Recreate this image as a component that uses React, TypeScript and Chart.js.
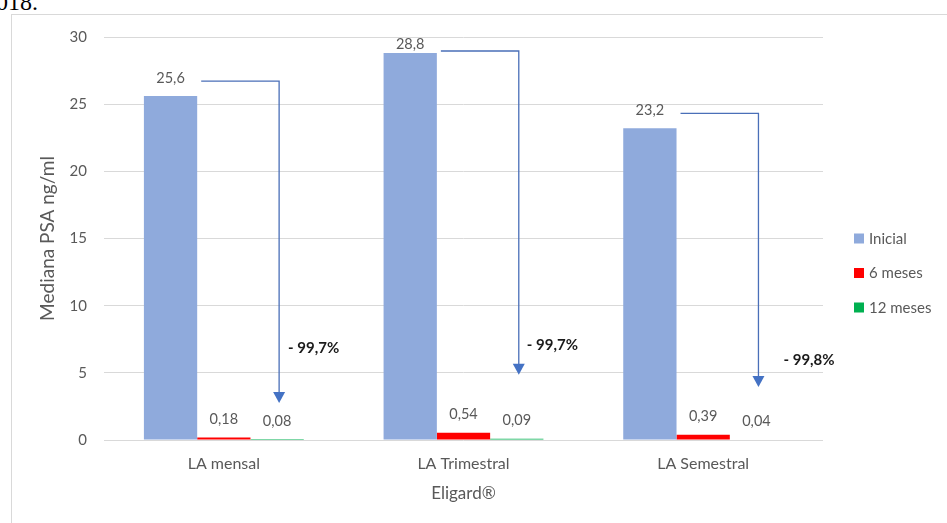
import { useEffect, useRef } from "react";
import { Chart, registerables } from "chart.js";

Chart.register(...registerables);

const categories = ["LA mensal", "LA Trimestral", "LA Semestral"];
const seriesNames = ["Inicial", "6 meses", "12 meses"];
const inicialValues = [25.6, 28.8, 23.2];
const meses6Values = [0.18, 0.54, 0.39];
const meses12Values = [0.08, 0.09, 0.04];
const reductionLabels = ["- 99,7%", "- 99,7%", "- 99,8%"];
const arrowEndValues = [2.75, 4.85, 3.95];
const reductionLabelValues = [6.85, 7.05, 5.95];
const yTickMax = 30;
const yTickStep = 5;

const seriesColors = ["#8FAADC", "#FF0000", "#00B050"];
const reductionLabelOffsets = [9, 8, 25];
const FONT = "Lato";

const fmt = (v: number) => String(v).replace(".", ",");

const valueLabelPlugin = {
  id: "valueLabels",
  afterDatasetsDraw(chart: any) {
    const { ctx, chartArea } = chart;
    ctx.save();
    ctx.font = `14.5px ${FONT}`;
    ctx.fillStyle = "#595959";
    ctx.textAlign = "center";
    ctx.textBaseline = "middle";
    chart.data.datasets.forEach((ds: any, di: number) => {
      const meta = chart.getDatasetMeta(di);
      meta.data.forEach((bar: any, i: number) => {
        const y = Math.max(bar.y - 18, chartArea.top + 7);
        ctx.fillText(fmt(ds.data[i]), bar.x, y);
      });
    });
    ctx.restore();
  },
};

const arrowPlugin = {
  id: "arrows",
  afterDatasetsDraw(chart: any) {
    const { ctx, chartArea } = chart;
    const yScale = chart.scales.y;
    const m0 = chart.getDatasetMeta(0);
    const m2 = chart.getDatasetMeta(2);
    ctx.save();
    categories.forEach((_, i) => {
      const b0 = m0.data[i];
      const b2 = m2.data[i];
      const hy = Math.max(b0.y - 15, chartArea.top + 14);
      const x0 = b0.x + b0.width / 2 + 4;
      const x1 = b2.x + 2;
      const yEnd = yScale.getPixelForValue(arrowEndValues[i]);
      ctx.strokeStyle = "#4A6FB8";
      ctx.lineWidth = 1.3;
      ctx.beginPath();
      ctx.moveTo(x0, hy);
      ctx.lineTo(x1, hy);
      ctx.lineTo(x1, yEnd - 9);
      ctx.stroke();
      ctx.fillStyle = "#4472C4";
      ctx.beginPath();
      ctx.moveTo(x1 - 6, yEnd - 11);
      ctx.lineTo(x1 + 6, yEnd - 11);
      ctx.lineTo(x1, yEnd);
      ctx.closePath();
      ctx.fill();
      ctx.fillStyle = "#1a1a1a";
      ctx.font = `bold 15px ${FONT}`;
      ctx.textAlign = "left";
      ctx.textBaseline = "middle";
      ctx.fillText(
        reductionLabels[i],
        x1 + reductionLabelOffsets[i],
        yScale.getPixelForValue(reductionLabelValues[i])
      );
    });
    ctx.restore();
  },
};

const legendPlugin = {
  id: "sideLegend",
  afterDraw(chart: any) {
    const { ctx, chartArea } = chart;
    const cy = (chartArea.top + chartArea.bottom) / 2;
    const x = chartArea.right + 31;
    ctx.save();
    ctx.font = `15px ${FONT}`;
    ctx.textAlign = "left";
    ctx.textBaseline = "middle";
    chart.data.datasets.forEach((ds: any, i: number) => {
      const y = cy + i * 34.5;
      ctx.fillStyle = ds.backgroundColor;
      ctx.fillRect(x, y - 5, 10, 10);
      ctx.fillStyle = "#595959";
      ctx.fillText(ds.label, x + 15, y + 0.5);
    });
    ctx.restore();
  },
};

export default function App() {
  const ref = useRef<HTMLCanvasElement>(null);
  useEffect(() => {
    if (!ref.current) return;
    const chart = new Chart(ref.current, {
      type: "bar",
      data: {
        labels: categories,
        datasets: [
          { label: seriesNames[0], data: inicialValues, backgroundColor: seriesColors[0] },
          { label: seriesNames[1], data: meses6Values, backgroundColor: seriesColors[1] },
          { label: seriesNames[2], data: meses12Values, backgroundColor: seriesColors[2] },
        ],
      },
      options: {
        responsive: false,
        animation: false,
        layout: { padding: { left: 0, right: 124, top: 37, bottom: 0 } },
        datasets: {
          bar: { categoryPercentage: 0.667, barPercentage: 1 },
        },
        plugins: {
          legend: { display: false },
          tooltip: { enabled: false },
        },
        scales: {
          x: {
            grid: { display: false },
            border: { display: false },
            ticks: { color: "#595959", font: { family: FONT, size: 16 }, padding: 6 },
            title: {
              display: true,
              text: "Eligard®",
              color: "#595959",
              font: { family: FONT, size: 17 },
              padding: { top: 0, bottom: 19 },
            },
            afterFit: (s: any) => {
              s.height = 83;
            },
          },
          y: {
            min: 0,
            max: yTickMax,
            ticks: {
              stepSize: yTickStep,
              color: "#595959",
              font: { family: FONT, size: 15 },
              padding: 17,
            },
            grid: { color: "#D9D9D9", drawTicks: false },
            border: { display: false },
            title: {
              display: true,
              text: "Mediana PSA ng/ml",
              color: "#595959",
              font: { family: FONT, size: 19 },
              padding: { top: 36, bottom: 0 },
            },
            afterFit: (s: any) => {
              s.width = 104;
            },
          },
        },
      },
      plugins: [valueLabelPlugin, arrowPlugin, legendPlugin],
    });
    return () => chart.destroy();
  }, []);

  return (
    <div
      style={{
        position: "fixed",
        left: 0,
        top: 0,
        width: 947,
        height: 523,
        overflow: "hidden",
        background: "#fff",
      }}
    >
      <div
        style={{
          position: "absolute",
          left: -16,
          top: -10,
          fontFamily: "'Liberation Serif', serif",
          fontSize: 24,
          lineHeight: 1,
          color: "#000",
          whiteSpace: "nowrap",
        }}
      >
        2018.
      </div>
      <div
        style={{
          position: "absolute",
          left: 11,
          top: 14,
          right: -2,
          bottom: -2,
          borderLeft: "1px solid #D9D9D9",
          borderTop: "1px solid #D9D9D9",
        }}
      />
      <canvas
        ref={ref}
        width={947}
        height={523}
        style={{ position: "absolute", left: 0, top: 0, width: 947, height: 523 }}
      />
    </div>
  );
}
